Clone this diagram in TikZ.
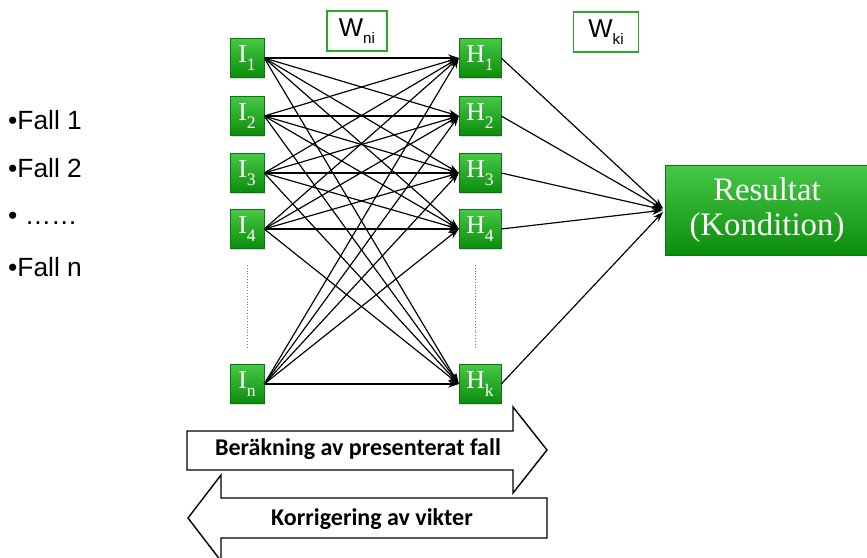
\documentclass[tikz,border=0pt]{standalone}
\usepackage{fontspec}
\setmainfont{Liberation Serif}
\newfontfamily\arialfont{Liberation Sans}
\newfontfamily\calibrifont{Carlito}
\usetikzlibrary{arrows.meta, shadows}
\definecolor{nodelight}{RGB}{70,200,70}
\definecolor{nodedark}{RGB}{12,140,12}
\definecolor{wframe}{RGB}{40,170,40}
\newcommand{\lowidx}[2]{\raisebox{-0.3em}{\fontsize{#1}{#1}\selectfont #2}}

\begin{document}
\begin{tikzpicture}[x=0.03cm, y=-0.03cm,
  neuron/.style={draw=nodedark!85!black, top color=nodelight, bottom color=nodedark, text=white, inner sep=0pt, minimum height=1.17cm, drop shadow={opacity=0.3, shadow xshift=1pt, shadow yshift=-1pt}},
  inp/.style={neuron, minimum width=1.02cm, font=\fontsize{22}{24}\selectfont},
  hid/.style={neuron, minimum width=1.26cm, font=\fontsize{22}{24}\selectfont},
  weight/.style={draw=wframe, line width=1.5pt, fill=white, minimum height=1.2cm, inner sep=0pt, font=\arialfont\fontsize{22}{24}\selectfont},
  case/.style={anchor=west, inner sep=0pt, font=\arialfont\fontsize{22.5}{24}\selectfont},
  link/.style={line width=1pt, -{Stealth[length=9pt, width=6pt]}},
  bigarrow/.style={draw, line width=1.2pt, fill=white},
  arrowtext/.style={inner sep=0pt, font=\calibrifont\bfseries\fontsize{20.5}{22}\selectfont}]
\clip (0,0) rectangle (867,557);

% cases
\node[case] (f1) at (8,120) {•Fall 1};
\node[case] (f2) at (8,168) {•Fall 2};
\node[case] (f3) at (8,218) {• ……};
\node[case] (fn) at (8,267) {•Fall n};

% input layer
\node[inp] (i1) at (247,58) {I\lowidx{15}{1}};
\node[inp] (i2) at (247,116) {I\lowidx{15}{2}};
\node[inp] (i3) at (247,173) {I\lowidx{15}{3}};
\node[inp] (i4) at (247,229) {I\lowidx{15}{4}};
\node[inp] (in) at (247,384) {I\lowidx{15}{n}};

% hidden layer
\node[hid] (h1) at (480,58) {H\lowidx{15}{1}};
\node[hid] (h2) at (480,116) {H\lowidx{15}{2}};
\node[hid] (h3) at (480,173) {H\lowidx{15}{3}};
\node[hid] (h4) at (480,229) {H\lowidx{15}{4}};
\node[hid] (hk) at (480,384) {H\lowidx{15}{k}};

\draw[gray, dotted] (247,265) -- (247,347);
\draw[gray, dotted] (475,265) -- (475,347);

% result
\node[neuron, minimum width=6.12cm, minimum height=2.7cm, align=center, font=\fontsize{28}{30}\selectfont] (res) at (767,210) {Resultat\\(Kondition)};

% weights
\node[weight, minimum width=1.8cm] (wni) at (357,31) {W\lowidx{13}{ni}};
\node[weight, minimum width=1.95cm] (wki) at (606,32) {W\lowidx{13}{ki}};

\foreach \i in {1,2,3,4,n}
  \foreach \h in {1,2,3,4,k}
    \draw[link] (i\i.east) -- (h\h.west);
\foreach \h in {1,2,3,4,k}
  \draw[link, shorten >=2pt] (h\h.east) -- (res.west);

% direction arrows
\draw[bigarrow] (187,431) -- (513,431) -- (513,407) -- (547,450) -- (513,493) -- (513,470) -- (187,470) -- cycle;
\draw[bigarrow] (188,518) -- (221,475) -- (221,498) -- (547,498) -- (547,538) -- (221,538) -- (221,561) -- cycle;
\node[arrowtext] (fwd) at (358,449) {Beräkning av presenterat fall};
\node[arrowtext] (bwd) at (372,519) {Korrigering av vikter};
\end{tikzpicture}
\end{document}
